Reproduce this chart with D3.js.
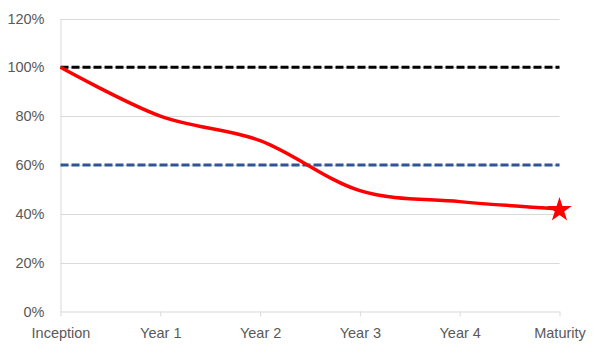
<!DOCTYPE html>
<html>
<head>
<meta charset="utf-8">
<script src="https://cdn.jsdelivr.net/npm/d3@7"></script>
<style>
html,body{margin:0;padding:0;background:#fff;}
svg{display:block;}
text{font-family:"Liberation Sans",Arial,sans-serif;font-size:14.5px;fill:#595959;}
</style>
</head>
<body>
<svg id="chart" width="602" height="355"></svg>
<script>
const categories = ["Inception","Year 1","Year 2","Year 3","Year 4","Maturity"];
const values = [100, 80, 70, 49.5, 45, 42];
const upperLevel = [100, 100, 100, 100, 100, 100];
const lowerLevel = [60, 60, 60, 60, 60, 60];
const yTicks = [0, 20, 40, 60, 80, 100, 120];

const svg = d3.select("#chart");
const x = d3.scalePoint().domain(categories).range([60.5, 559.5]);
const y = d3.scaleLinear().domain([0, 120]).range([311.5, 18.5]);

// gridlines
svg.append("g").selectAll("line").data(yTicks.filter(d => d > 0)).join("line")
  .attr("x1", 60.5).attr("x2", 559.5)
  .attr("y1", d => Math.round(y(d)) + 0.5).attr("y2", d => Math.round(y(d)) + 0.5)
  .attr("stroke", "#d9d9d9").attr("stroke-width", 1);

// y axis
const yAxis = svg.append("g").attr("transform", "translate(60.5,0)")
  .call(d3.axisLeft(y).tickValues(yTicks).tickSize(0).tickPadding(16).tickFormat(d => d + "%"));
yAxis.select(".domain").attr("stroke", "#d9d9d9");
yAxis.selectAll("text").style("font-family", "Liberation Sans, Arial, sans-serif").style("font-size", "14.5px").attr("fill", "#595959");

// x axis
const xAxis = svg.append("g").attr("transform", "translate(0,311.5)")
  .call(d3.axisBottom(x).tickSize(5).tickPadding(11).tickSizeOuter(0));
xAxis.select(".domain").attr("stroke", "#d9d9d9");
xAxis.selectAll(".tick line").attr("stroke", "#d9d9d9");
xAxis.selectAll("text").style("font-family", "Liberation Sans, Arial, sans-serif").style("font-size", "14.5px").attr("fill", "#595959");

const straight = d3.line().x((d, i) => x(categories[i])).y(d => y(d));

svg.append("path").datum(upperLevel).attr("d", straight)
  .attr("fill", "none").attr("stroke", "#000").attr("stroke-width", 3).attr("stroke-dasharray", "8,3");
svg.append("path").datum(lowerLevel).attr("d", straight)
  .attr("fill", "none").attr("stroke", "#2f5597").attr("stroke-width", 3).attr("stroke-dasharray", "8,3");

const smooth = d3.line().x((d, i) => x(categories[i])).y(d => y(d)).curve(d3.curveCatmullRom.alpha(0));
svg.append("path").datum(values).attr("d", smooth)
  .attr("fill", "none").attr("stroke", "#ff0000").attr("stroke-width", 3.5);

const last = values.length - 1;
svg.append("path")
  .attr("d", d3.symbol().type(d3.symbolStar).size(190)())
  .attr("transform", `translate(${x(categories[last])},${y(values[last]) + 1})`)
  .attr("fill", "#ff0000");
</script>
</body>
</html>
